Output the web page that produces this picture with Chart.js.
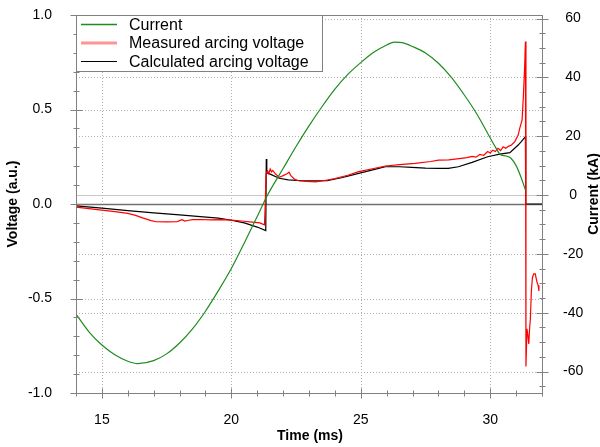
<!DOCTYPE html>
<html>
<head>
<meta charset="utf-8">
<script src="https://cdn.jsdelivr.net/npm/chart.js@4.4.1/dist/chart.umd.min.js"></script>
<style>
  html, body { margin: 0; padding: 0; background: #fff; }
  canvas { display: block; }
</style>
</head>
<body>
<canvas id="arcChart" width="600" height="447"></canvas>
<script>
// current (kA), right axis
const currentTime = [14.0, 14.5, 15.0, 15.5, 16.0, 16.4, 17.0, 17.5, 18.0, 18.5, 19.0, 19.5, 20.0, 20.5, 21.0, 21.4,
    22.0, 22.5, 23.0, 23.5, 24.0, 24.5, 25.0, 25.5, 26.0, 26.3, 26.6, 27.0, 27.5, 28.0, 28.5, 29.0, 29.5, 29.9,
    30.2, 30.4, 30.6, 30.8, 31.0, 31.2, 31.36];
const currentKA = [-40.5, -46.5, -51, -54.3, -56.5, -57.3, -56.3, -54, -50.3, -45.5, -39.5, -32.5, -25, -16.3, -7.3, 0,
    9, 16.5, 23.5, 30, 36, 41, 45, 48.5, 51, 52, 51.8, 50.5, 48.3, 44.8, 40, 34, 27.3, 21,
    16.3, 13.7, 13.3, 12.5, 10, 5.8, 1.7];

// measured arcing voltage (a.u.), left axis
const measuredTime = [14.0, 14.5, 15.0, 15.5, 16.0, 16.3, 16.6, 16.9, 17.1, 17.5, 17.9, 18.0, 18.1, 18.2, 18.35, 18.5,
    18.8, 19.2, 19.6, 20.0, 20.4, 20.8, 21.1, 21.28, 21.31, 21.34, 21.4, 21.45, 21.5, 21.55, 21.6, 21.7, 21.85,
    22.0, 22.15, 22.23, 22.3, 22.45, 22.6, 22.9, 23.26, 23.7, 24.0, 24.5, 24.92, 25.5, 25.95, 26.5, 27.1, 27.7,
    28.0, 28.4, 28.8, 29.1, 29.3, 29.45, 29.6, 29.75, 29.9, 30.0, 30.1, 30.2, 30.3, 30.4, 30.5, 30.6, 30.7, 30.82,
    30.95, 31.08, 31.14, 31.23, 31.28, 31.33, 31.36, 31.38, 31.42, 31.46, 31.49, 31.52, 31.55, 31.59, 31.63, 31.68,
    31.74, 31.8, 31.85, 31.88];
const measuredV = [-0.016, -0.024, -0.032, -0.04, -0.05, -0.06, -0.075, -0.088, -0.094, -0.095, -0.094, -0.088, -0.083, -0.09, -0.086, -0.083,
    -0.082, -0.084, -0.083, -0.085, -0.09, -0.096, -0.1, -0.11, 0.0, 0.16, 0.175, 0.16, 0.185, 0.17, 0.178, 0.16, 0.141,
    0.15, 0.16, 0.168, 0.15, 0.13, 0.123, 0.12, 0.117, 0.127, 0.135, 0.152, 0.171, 0.188, 0.201, 0.208, 0.215, 0.225,
    0.232, 0.233, 0.24, 0.245, 0.252, 0.248, 0.262, 0.258, 0.278, 0.27, 0.285, 0.278, 0.295, 0.283, 0.303, 0.295, 0.305, 0.312,
    0.33, 0.365, 0.4, 0.444, 0.568, 0.726, 0.86, -0.86, -0.66, -0.70, -0.74, -0.66, -0.61, -0.46, -0.39, -0.37,
    -0.37, -0.41, -0.43, -0.46];

// calculated arcing voltage (a.u.), left axis
const calcTime = [14.0, 15.0, 16.0, 17.0, 18.0, 18.8, 19.5, 20.0, 20.5, 21.0, 21.33, 21.35, 21.37, 21.5, 21.85, 22.2,
    22.74, 23.2, 23.7, 24.3, 24.92, 25.5, 25.95, 26.5, 26.97, 27.5, 28.0, 28.38, 28.77, 29.3, 29.9, 30.37, 30.76,
    31.08, 31.2, 31.36, 31.37, 32.0];
const calcV = [-0.01, -0.022, -0.035, -0.047, -0.058, -0.067, -0.075, -0.086, -0.1, -0.122, -0.141, 0.238, 0.165, 0.158, 0.136, 0.128,
    0.123, 0.122, 0.123, 0.14, 0.162, 0.182, 0.197, 0.197, 0.194, 0.19, 0.189, 0.189, 0.197, 0.22, 0.25, 0.264, 0.272,
    0.312, 0.33, 0.356, 0.0, 0.0];

const timeTicks = [15, 20, 25, 30];
const voltageTicks = [-1, -0.5, 0, 0.5, 1];
const currentTicks = [-60, -40, -20, 0, 20, 40, 60];
const seriesNames = ['Current', 'Measured arcing voltage', 'Calculated arcing voltage'];

const FONT = '"Liberation Sans", Arial, sans-serif';
const GREEN = 'rgb(30, 140, 30)';

function toPoints(xs, ys) {
    return xs.map((x, i) => ({ x: x, y: ys[i] }));
}

function hLine(ctx, x1, x2, y) {
    ctx.beginPath();
    ctx.moveTo(x1, y);
    ctx.lineTo(x2, y);
    ctx.stroke();
}

function vLine(ctx, x, y1, y2) {
    ctx.beginPath();
    ctx.moveTo(x, y1);
    ctx.lineTo(x, y2);
    ctx.stroke();
}

// keep the plot area fixed: no extra room for half-labels
function fixVertical(width) {
    return s => {
        s.width = width;
        s.paddingTop = 0;
        s.paddingBottom = 0;
    };
}

const framePlugin = {
    id: 'frame',
    beforeDatasetsDraw(chart) {
        const ctx = chart.ctx, a = chart.chartArea;
        const sx = chart.scales.x, sy = chart.scales.y, sy2 = chart.scales.y2;
        ctx.save();
        ctx.lineWidth = 1;
        ctx.strokeStyle = '#b0b0b0';
        ctx.setLineDash([1, 2]);
        timeTicks.forEach(v => vLine(ctx, Math.round(sx.getPixelForValue(v)) + 0.5, a.top, a.bottom));
        [-0.5, 0.5].forEach(v => hLine(ctx, a.left, a.right, Math.round(sy.getPixelForValue(v)) + 0.5));
        currentTicks.filter(v => v !== 0).forEach(v => hLine(ctx, a.left, a.right, Math.round(sy2.getPixelForValue(v)) + 0.5));
        ctx.setLineDash([]);
        ctx.strokeStyle = '#c8c8c8';
        hLine(ctx, a.left, a.right, Math.round(sy2.getPixelForValue(0)) + 0.5);
        ctx.strokeStyle = '#707070';
        ctx.lineWidth = 1.5;
        hLine(ctx, a.left, a.right, Math.round(sy.getPixelForValue(0)) + 0.5);
        ctx.restore();
    },
    afterDatasetsDraw(chart) {
        const ctx = chart.ctx, a = chart.chartArea;
        const sx = chart.scales.x, sy = chart.scales.y, sy2 = chart.scales.y2;
        const L = Math.round(a.left) + 0.5, R = Math.round(a.right) + 0.5, T = Math.round(a.top) + 0.5, B = Math.round(a.bottom) + 0.5;
        ctx.save();
        ctx.lineWidth = 1;
        ctx.strokeStyle = '#808080';
        ctx.strokeRect(L, T, R - L, B - T);

        // tick marks crossing the axis lines
        for (let t = 14; t <= 32; t++) {
            const px = Math.round(sx.getPixelForValue(t)) + 0.5;
            const big = t % 5 === 0 ? 5 : 3;
            vLine(ctx, px, B - big, B + big);
        }
        for (let i = -10; i <= 10; i++) {
            const py = Math.round(sy.getPixelForValue(i / 10)) + 0.5;
            const big = i % 5 === 0 ? 6 : 3;
            hLine(ctx, L - big, L + big, py);
        }
        for (let v = -65; v <= 60; v += 5) {
            const py = Math.round(sy2.getPixelForValue(v)) + 0.5;
            const big = v % 20 === 0 ? 6 : 3;
            hLine(ctx, R - big, R + big, py);
        }

        // legend box
        ctx.fillStyle = '#fff';
        ctx.fillRect(L, T, 246, 56);
        ctx.strokeStyle = '#808080';
        ctx.strokeRect(L, T, 246, 56);
        const rows = [T + 9, T + 27.5, T + 46];
        const styles = [[GREEN, 1.5], ['rgba(255, 60, 60, 0.55)', 3], ['#000', 1]];
        ctx.font = '16px ' + FONT;
        ctx.textBaseline = 'middle';
        ctx.textAlign = 'left';
        seriesNames.forEach((name, i) => {
            ctx.strokeStyle = styles[i][0];
            ctx.lineWidth = styles[i][1];
            hLine(ctx, 81, 117, rows[i]);
            ctx.fillStyle = '#000';
            ctx.fillText(name, 129, rows[i] + 1);
        });

        // axis titles
        ctx.font = 'bold 14px ' + FONT;
        ctx.textAlign = 'center';
        ctx.fillStyle = '#000';
        ctx.fillText('Time (ms)', 310, 436);
        ctx.save();
        ctx.translate(13, 204);
        ctx.rotate(-Math.PI / 2);
        ctx.fillText('Voltage (a.u.)', 0, 0);
        ctx.restore();
        ctx.save();
        ctx.translate(594, 194);
        ctx.rotate(-Math.PI / 2);
        ctx.fillText('Current (kA)', 0, 0);
        ctx.restore();
        ctx.restore();
    }
};

new Chart(document.getElementById('arcChart').getContext('2d'), {
    type: 'line',
    data: {
        datasets: [{
            label: seriesNames[0],
            data: toPoints(currentTime, currentKA),
            yAxisID: 'y2',
            borderColor: GREEN,
            borderWidth: 1.2,
            cubicInterpolationMode: 'monotone'
        }, {
            label: seriesNames[1],
            data: toPoints(measuredTime, measuredV),
            yAxisID: 'y',
            borderColor: '#ff0000',
            borderWidth: 1.2
        }, {
            label: seriesNames[2],
            data: toPoints(calcTime, calcV),
            yAxisID: 'y',
            borderColor: '#000000',
            borderWidth: 1.2
        }]
    },
    options: {
        responsive: false,
        animation: false,
        events: [],
        layout: { padding: { top: 15, left: 0, right: 0, bottom: 0 } },
        elements: { point: { radius: 0 }, line: { tension: 0 } },
        plugins: {
            legend: { display: false },
            tooltip: { enabled: false }
        },
        scales: {
            x: {
                type: 'linear',
                min: 14,
                max: 32,
                afterBuildTicks: s => { s.ticks = timeTicks.map(v => ({ value: v })); },
                afterFit: s => { s.height = 54; s.paddingLeft = 0; s.paddingRight = 0; },
                grid: { display: false },
                border: { display: false },
                ticks: { color: '#000', font: { family: FONT, size: 14 }, padding: 11, maxRotation: 0 }
            },
            y: {
                type: 'linear',
                position: 'left',
                min: -1,
                max: 1,
                afterBuildTicks: s => { s.ticks = voltageTicks.map(v => ({ value: v })); },
                afterFit: fixVertical(76),
                grid: { display: false },
                border: { display: false },
                ticks: { color: '#000', font: { family: FONT, size: 14 }, padding: 16, callback: v => v.toFixed(1) }
            },
            y2: {
                type: 'linear',
                position: 'right',
                min: -67.3,
                max: 61.2,
                afterBuildTicks: s => { s.ticks = currentTicks.map(v => ({ value: v })); },
                afterFit: fixVertical(58),
                grid: { display: false },
                border: { display: false },
                ticks: { color: '#000', font: { family: FONT, size: 14 }, padding: 13, crossAlign: 'center' }
            }
        }
    },
    plugins: [framePlugin]
});
</script>
</body>
</html>
